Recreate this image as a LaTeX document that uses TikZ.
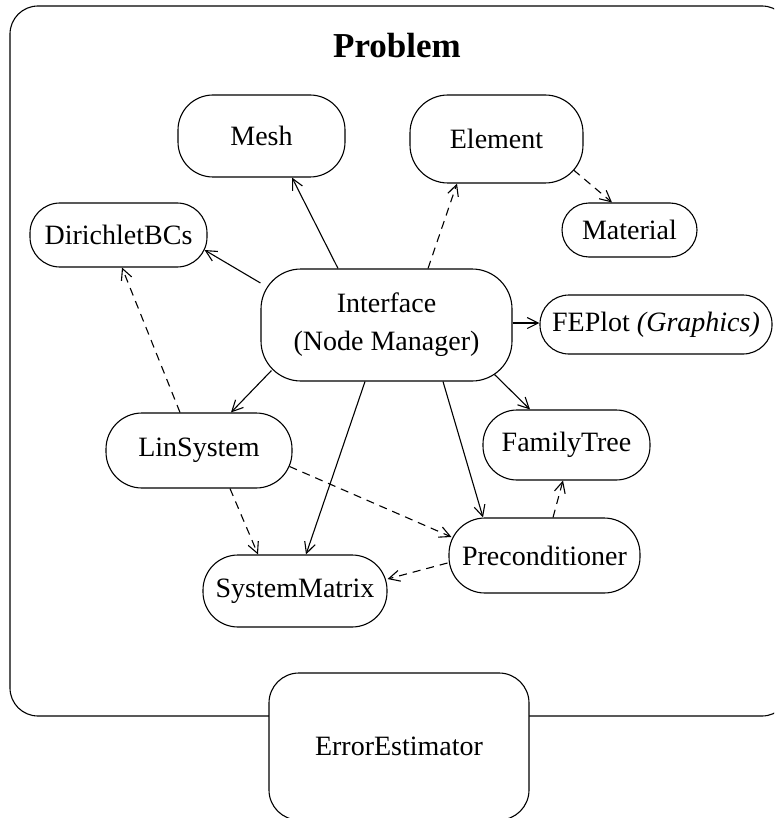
\documentclass[tikz,border=0pt]{standalone}
\usepackage{fontspec}
\setmainfont{Liberation Serif}
\usetikzlibrary{arrows.meta}
\begin{document}
\begin{tikzpicture}[x=1pt,y=-1pt,
  line width=1.1pt,
  every node/.style={font=\fontsize{28}{38}\selectfont},
  cls/.style args={#1x#2r#3}{draw, rectangle, rounded corners=#3pt,
    minimum width=#1pt, minimum height=#2pt, inner sep=0pt, align=center},
  uses/.style={-{Straight Barb[length=11pt,width=11pt,line width=1.1pt]}},
  dep/.style={uses, dash pattern=on 8pt off 6pt}
]
\useasboundingbox (0,0) rectangle (774,818);
\clip (0,0) rectangle (774,818);

% enclosing Problem class
\draw[rounded corners=28pt] (10,6) rectangle (790,716);
\node[font=\fontsize{35}{40}\selectfont\bfseries] (title) at (397,46) {Problem};

% member classes
\node[cls=167x82r35]  (mesh) at (261.5,136) {Mesh};
\node[cls=173x88r38]  (elem) at (496.5,139) {Element};
\node[cls=135x54r27]  (mat)  at (629.5,230) {Material};
\node[cls=177x64r30]  (dir)  at (118.5,235) {DirichletBCs};
\node[cls=251x112r40] (int)  at (386.5,325) {Interface\\(Node Manager)};
\node[cls=232x59r29]  (fep)  at (656,324.5) {FEPlot \textit{(Graphics)}};
\node[cls=186x75r36]  (lin)  at (199,450.5) {LinSystem};
\node[cls=167x70r34]  (fam)  at (566.5,445) {FamilyTree};
\node[cls=191x75r36]  (pre)  at (544.5,555.5) {Preconditioner};
\node[cls=184x72r35]  (sys)  at (295,591) {SystemMatrix};
\node[cls=260x147r30, fill=white] (err) at (399,746.5) {ErrorEstimator};

% relations from the interface
\draw[uses] ([xshift=-48.5pt]int.north) -- ([xshift=30.5pt]mesh.south);
\draw[uses] ([yshift=42pt]int.west) -- ([xshift=-3pt,yshift=-15pt]dir.east);
\draw[dep]  ([xshift=41.5pt]int.north) -- ([xshift=-39.5pt]elem.south);
\draw[uses] ([yshift=2pt]int.east) -- ([yshift=2pt]int.east -| fep.west);
\draw[uses] ([xshift=11pt,yshift=11pt]int.south west) -- ([xshift=32pt]lin.north);
\draw[uses] ([xshift=-18pt,yshift=7pt]int.south east) -- ([xshift=-36.5pt]fam.north);
\draw[uses] ([xshift=-21.5pt]int.south) -- ([xshift=11pt]sys.north);
\draw[uses] ([xshift=56.5pt]int.south) -- ([xshift=-61.5pt]pre.north);

% other dependencies
\draw[dep] ([xshift=-10pt,yshift=-31pt]elem.east) -- ([xshift=-17.5pt]mat.north);
\draw[dep] ([xshift=-19pt]lin.north) -- ([xshift=3.5pt]dir.south);
\draw[dep] ([xshift=31pt]lin.south) -- ([xshift=-37pt]sys.north);
\draw[dep] ([xshift=-3pt,yshift=-16pt]lin.east) -- ([xshift=3pt,yshift=18.5pt]pre.west);
\draw[dep] ([xshift=-1pt,yshift=-7.5pt]pre.west) -- ([yshift=12pt]sys.east);
\draw[dep] ([xshift=8.5pt]pre.north) -- ([xshift=-3.5pt]fam.south);
\end{tikzpicture}
\end{document}
